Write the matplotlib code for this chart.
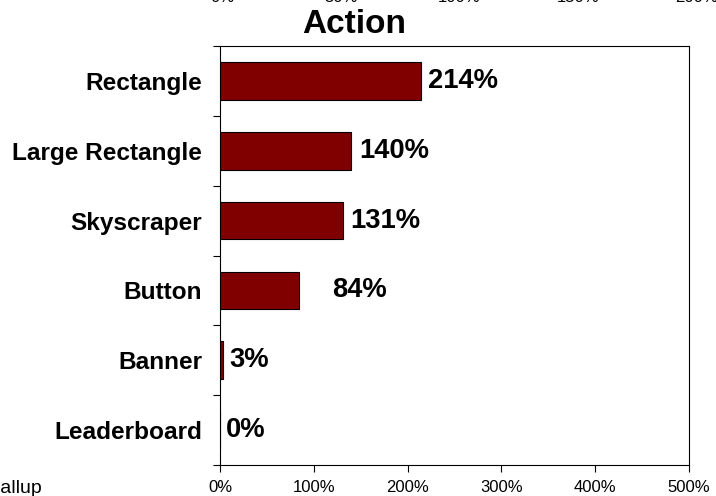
import matplotlib.pyplot as plt
from matplotlib.ticker import FixedLocator

plt.rcParams['font.family'] = ['Liberation Sans', 'DejaVu Sans']

formats = ['Rectangle', 'Large Rectangle', 'Skyscraper', 'Button', 'Banner', 'Leaderboard']
lift = [214, 140, 131, 84, 3, 0]
label_gap = [7, 8, 7, 33, 7, 6]  # px between bar end and its label

x_ticks = [0, 100, 200, 300, 400, 500]
top_ticks = ['0%', '50%', '100%', '150%', '200%']  # leftover axis from the chart above

W, H = 716, 496
fig = plt.figure(figsize=(W / 100, H / 100), dpi=100)
ax = fig.add_axes([220 / W, 1 - 465 / H, (689 - 220) / W, (465 - 46) / H])

pos = list(range(len(formats)))
ax.barh(pos, lift, height=0.54, color='#800000', edgecolor='black', linewidth=0.8)
ax.set_ylim(len(formats) - 0.5, -0.5)
ax.set_xlim(0, 500)

px = 500 / (689 - 220)
for y, v, g in zip(pos, lift, label_gap):
    ax.text(v + g * px, y, f'{v}%', va='center', ha='left',
            fontsize=19.7, fontweight='bold')

ax.set_yticks(pos)
ax.set_yticklabels(formats, fontsize=17.6, fontweight='bold')
ax.yaxis.set_minor_locator(FixedLocator([p - 0.5 for p in pos] + [len(formats) - 0.5]))
ax.tick_params(axis='y', which='major', length=0, pad=13)
ax.tick_params(axis='y', which='minor', length=5, width=0.8, direction='out')

ax.set_xticks(x_ticks)
ax.set_xticklabels([f'{t}%' for t in x_ticks], fontsize=12)
ax.tick_params(axis='x', length=5, width=0.8, direction='out', pad=5.5)

for s in ax.spines.values():
    s.set_linewidth(0.8)

fig.text(354 / W, 1 - 33 / H, 'Action', ha='center', va='baseline',
         fontsize=24, fontweight='bold')

# partly visible tick labels along the top edge
for i, t in enumerate(top_ticks):
    fig.text((222 + i * 118.75) / W, 1 - 2 / H, t, ha='center', va='baseline', fontsize=12)

fig.text(42 / W, 1 - 493 / H, 'Gallup', ha='right', va='baseline', fontsize=14)

fig.savefig('out.png', dpi=100)
